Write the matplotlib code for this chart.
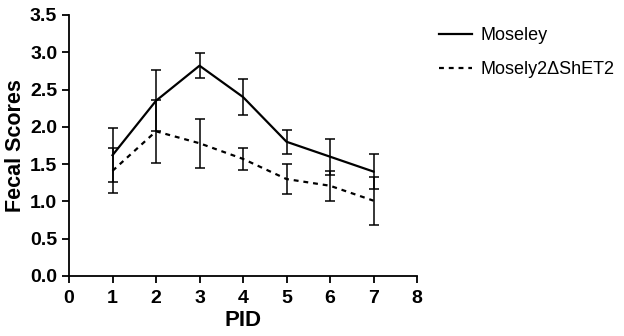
import numpy as np
import matplotlib
matplotlib.use("Agg")
import matplotlib.pyplot as plt

# values (mean +/- error)
pid = [1, 2, 3, 4, 5, 6, 7]
moseley = [1.62, 2.35, 2.82, 2.40, 1.80, 1.60, 1.40]
moseley_err = [0.36, 0.41, 0.17, 0.24, 0.16, 0.24, 0.24]
mutant = [1.41, 1.94, 1.78, 1.57, 1.30, 1.21, 1.01]
mutant_err = [0.30, 0.42, 0.33, 0.15, 0.20, 0.20, 0.32]

labels = ["Moseley", "Mosely2\u0394ShET2"]

plt.rcParams['font.family'] = ['Liberation Sans', 'DejaVu Sans']

fig = plt.figure(figsize=(6.24, 3.36), dpi=100)
ax = fig.add_axes([0.1106, 0.1786, 0.5577, 0.7768])

ax.errorbar(pid, moseley, yerr=moseley_err, color='black', lw=1.6,
            ls='-', capsize=3.5, elinewidth=1.1, capthick=1.1, label=labels[0])
ax.errorbar(pid, mutant, yerr=mutant_err, color='black', lw=1.6,
            ls=(0, (2.2, 2.2)), capsize=3.5, elinewidth=1.1, capthick=1.1,
            label=labels[1])

ax.set_xlim(0, 8)
ax.set_ylim(0, 3.5)
ax.set_xticks(range(0, 9))
ax.set_yticks(np.arange(0, 3.51, 0.5))
ax.set_yticklabels(["%.1f" % v for v in np.arange(0, 3.51, 0.5)])
ax.spines['top'].set_visible(False)
ax.spines['right'].set_visible(False)
ax.spines['left'].set_linewidth(1.3)
ax.spines['bottom'].set_linewidth(1.3)
ax.tick_params(direction='out', width=1.3, length=5, labelsize=14)
ax.tick_params(axis='x', pad=5)
for t in ax.get_xticklabels() + ax.get_yticklabels():
    t.set_fontweight('bold')

ax.set_xlabel("PID", fontsize=16, fontweight='bold', labelpad=2)
ax.set_ylabel("Fecal Scores", fontsize=15.5, fontweight='bold', labelpad=3)

# legend without error bars
handles, _ = ax.get_legend_handles_labels()
h = [hh[0] for hh in handles]
fig.legend(h, labels, loc='upper left', bbox_to_anchor=(0.695, 0.935),
           frameon=False, fontsize=13, handlelength=1.85, labelspacing=0.95,
           handletextpad=0.45, borderaxespad=0, borderpad=0.3)

fig.savefig("out.png", dpi=100)
